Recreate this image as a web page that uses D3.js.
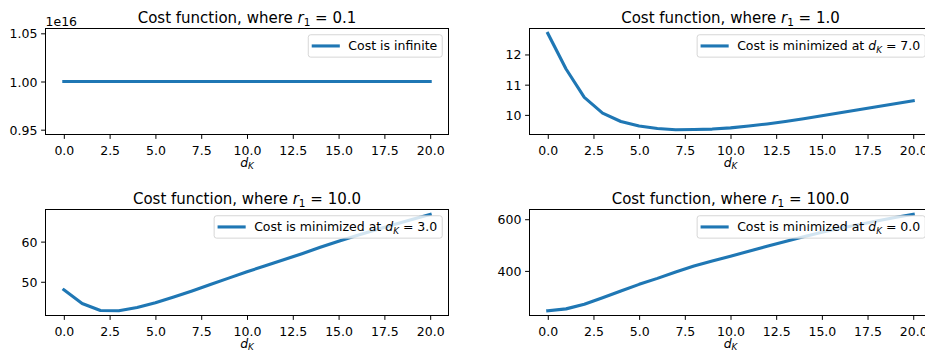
<!DOCTYPE html>
<html>
<head>
<meta charset="utf-8">
<script src="https://cdn.jsdelivr.net/npm/d3@7"></script>
<style>
  body { margin: 0; background: #fff; overflow: hidden; }
  svg { display: block; font-family: 'DejaVu Sans', sans-serif; }
</style>
</head>
<body>
<svg id="chart" width="925" height="354"></svg>
<script>
// distance d_K sampled at whole steps
const dK = [0, 1, 2, 3, 4, 5, 6, 7, 8, 9, 10, 11, 12, 13, 14, 15, 16, 17, 18, 19, 20];

// cost curves, one per r1 value
const costR01 = [1e16, 1e16, 1e16, 1e16, 1e16, 1e16, 1e16, 1e16, 1e16, 1e16, 1e16,
  1e16, 1e16, 1e16, 1e16, 1e16, 1e16, 1e16, 1e16, 1e16, 1e16];
const costR1 = [12.70, 11.52, 10.58, 10.06, 9.78, 9.63, 9.55, 9.51, 9.515, 9.53, 9.57,
  9.63, 9.70, 9.78, 9.87, 9.97, 10.07, 10.17, 10.27, 10.37, 10.47];
const costR10 = [48.0, 44.6, 42.85, 42.8, 43.6, 44.8, 46.2, 47.7, 49.3, 50.9, 52.5,
  54.0, 55.5, 57.0, 58.6, 60.1, 61.5, 62.9, 64.2, 65.5, 66.8];
const costR100 = [246, 253, 271, 296, 322, 348, 371, 396, 419, 438, 457,
  476, 495, 514, 532, 550, 565, 579, 593, 607, 619];

const r1Labels = ['0.1', '1.0', '10.0', '100.0'];
const minimizedAt = [null, '7.0', '3.0', '0.0'];

const xTicks = [0, 2.5, 5, 7.5, 10, 12.5, 15, 17.5, 20];
const xTickLabels = ['0.0', '2.5', '5.0', '7.5', '10.0', '12.5', '15.0', '17.5', '20.0'];

const yTicksR01 = [0.95e16, 1.0e16, 1.05e16];
const yTickLabelsR01 = ['0.95', '1.00', '1.05'];
const yTicksR1 = [10, 11, 12];
const yTicksR10 = [50, 60];
const yTicksR100 = [400, 600];

const blue = '#1f77b4';
const svg = d3.select('#chart');

// panel frames (matplotlib 2x2 subplots, right column runs past the window)
const cols = [[45.5, 448.5], [529.5, 931.5]];
const rows = [[28.5, 134.5], [209.5, 315.5]];

const panels = [
  { values: costR01, yTicks: yTicksR01, yLabels: yTickLabelsR01, col: 0, row: 0, offset: '1e16' },
  { values: costR1, yTicks: yTicksR1, yLabels: yTicksR1.map(String), col: 1, row: 0 },
  { values: costR10, yTicks: yTicksR10, yLabels: yTicksR10.map(String), col: 0, row: 1 },
  { values: costR100, yTicks: yTicksR100, yLabels: yTicksR100.map(String), col: 1, row: 1 },
];

// matplotlib style limits: 5% margin, constant data expanded by 5% first
function yDomain(values) {
  let [lo, hi] = d3.extent(values);
  if (lo === hi) {
    lo = lo - Math.abs(lo) * 0.05;
    hi = hi + Math.abs(hi) * 0.05;
  }
  const m = (hi - lo) * 0.05;
  return [lo - m, hi + m];
}

// write "d" + subscript K in a text element (mathtext look)
function mathDK(text, size) {
  text.append('tspan').style('font-style', 'italic').text('d');
  text.append('tspan').style('font-style', 'italic')
    .attr('font-size', size * 0.7).attr('dy', size * 0.22).text('K');
}

panels.forEach((p, i) => {
  const [left, right] = cols[p.col];
  const [top, bottom] = rows[p.row];

  const x = d3.scaleLinear().domain([-1, 21]).range([left, right]);
  const y = d3.scaleLinear().domain(yDomain(p.values)).range([bottom, top]);

  const g = svg.append('g').classed('panel', true);

  // line
  const line = d3.line().x((d, j) => x(dK[j])).y((d) => y(d));
  g.append('path')
    .datum(p.values)
    .attr('d', line)
    .attr('fill', 'none')
    .attr('stroke', blue)
    .attr('stroke-width', 3.1)
    .attr('stroke-linecap', 'square')
    .attr('stroke-linejoin', 'round');

  // x axis
  const xAxis = g.append('g')
    .attr('transform', `translate(0,${bottom})`)
    .call(d3.axisBottom(x).tickValues(xTicks)
      .tickFormat((d, j) => xTickLabels[j]).tickSizeOuter(0).tickSize(4.4).tickPadding(7.5));
  // y axis
  const yAxis = g.append('g')
    .attr('transform', `translate(${left},0)`)
    .call(d3.axisLeft(y).tickValues(p.yTicks)
      .tickFormat((d, j) => p.yLabels[j]).tickSizeOuter(0).tickSize(4.4).tickPadding(3.7));
  [xAxis, yAxis].forEach((a) => {
    a.select('.domain').remove();
    a.selectAll('line').attr('stroke', '#000').attr('stroke-width', 1);
    a.selectAll('text').attr('fill', '#000')
      .attr('font-family', "'DejaVu Sans', sans-serif").attr('font-size', 12.5);
  });
  yAxis.selectAll('text').attr('dy', '0.36em');

  // frame
  g.append('rect')
    .attr('x', left).attr('y', top)
    .attr('width', right - left).attr('height', bottom - top)
    .attr('fill', 'none').attr('stroke', '#000').attr('stroke-width', 1);

  // offset text
  if (p.offset) {
    g.append('text').attr('x', left).attr('y', top - 3)
      .attr('font-size', 12.5).attr('fill', '#000').text(p.offset);
  }

  // title
  const title = g.append('text')
    .attr('x', (left + right) / 2).attr('y', top - 6)
    .attr('text-anchor', 'middle').attr('font-size', 15).attr('fill', '#000');
  title.append('tspan').text('Cost function, where ');
  title.append('tspan').style('font-style', 'italic').text('r');
  title.append('tspan').attr('font-size', 10.5).attr('dy', 3.3).text('1');
  title.append('tspan').attr('dy', -3.3).text(' = ' + r1Labels[i]);

  // x label
  const xl = g.append('text')
    .attr('x', (left + right) / 2).attr('y', bottom + 32)
    .attr('text-anchor', 'middle').attr('font-size', 12.5).attr('fill', '#000');
  mathDK(xl, 12.5);

  // legend (upper right)
  const fs = 12.5;
  const pad = 0.4 * fs;
  const handle = 2 * fs;
  const gap = 0.8 * fs;
  const lg = g.append('g');
  const box = lg.append('rect');
  const ly = top + 0.5 * fs;
  const lh = 22.4;
  const lt = lg.append('text').attr('font-size', fs).attr('fill', '#000');
  if (minimizedAt[i] === null) {
    lt.append('tspan').text('Cost is infinite');
  } else {
    lt.append('tspan').text('Cost is minimized at ');
    mathDK(lt, fs);
    lt.append('tspan').attr('dy', -fs * 0.22).text(' = ' + minimizedAt[i]);
  }
  const tw = lt.node().getComputedTextLength();
  const lw = pad + handle + gap + tw + pad;
  const lx = right - 0.5 * fs - lw;
  box.attr('x', lx).attr('y', ly).attr('width', lw).attr('height', lh)
    .attr('rx', 2.5)
    .attr('fill', '#fff').attr('fill-opacity', 0.8)
    .attr('stroke', '#cccccc').attr('stroke-opacity', 0.8).attr('stroke-width', 1);
  lg.append('line')
    .attr('x1', lx + pad).attr('x2', lx + pad + handle)
    .attr('y1', ly + lh / 2).attr('y2', ly + lh / 2)
    .attr('stroke', blue).attr('stroke-width', 3.1).attr('stroke-linecap', 'square');
  lt.attr('x', lx + pad + handle + gap).attr('y', ly + lh / 2 + 4.5);
});
</script>
</body>
</html>
